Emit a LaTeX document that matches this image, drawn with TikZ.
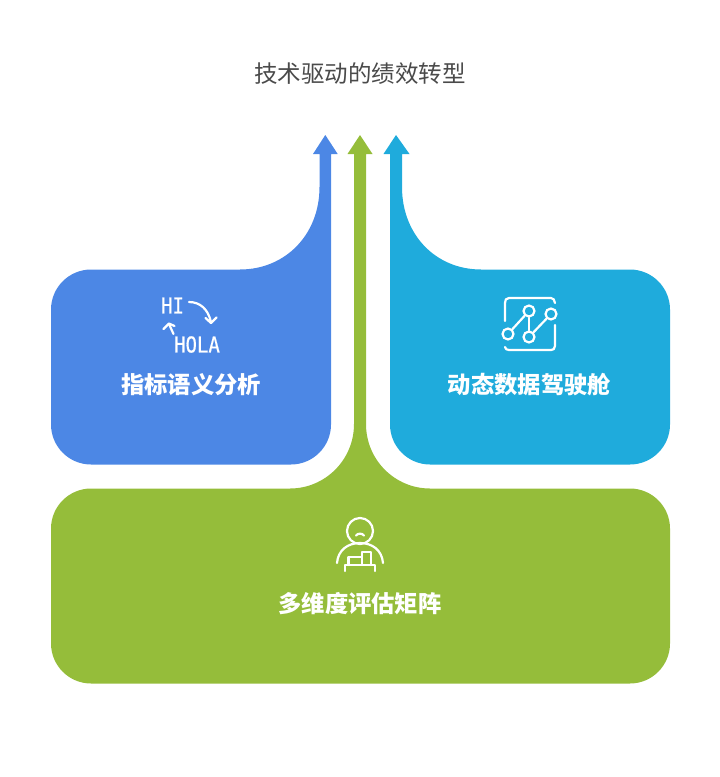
\documentclass[tikz,border=0pt]{standalone}
\usepackage{fontspec}
\setmainfont{Noto Sans CJK SC}
\newfontfamily\iconfont[FakeBold=0.6]{DejaVu Sans Mono}
\usetikzlibrary{arrows.meta}
\definecolor{blueflow}{HTML}{4C87E5}
\definecolor{greenflow}{HTML}{95BD3A}
\definecolor{cyanflow}{HTML}{1FABDC}
\definecolor{titlegray}{HTML}{4A4A4A}
\tikzset{
  boxlabel/.style={text=white,font=\fontsize{23.3}{26}\selectfont\bfseries,inner sep=0pt},
  iconline/.style={draw=white,line width=2.2pt,line cap=round,line join=round},
  icontext/.style={text=white,font=\iconfont\fontsize{19}{20}\selectfont,inner sep=0pt,yscale=1.15},
  dotnode/.style={circle,draw=white,line width=2.2pt,minimum size=11pt,inner sep=0pt}
}
\begin{document}
\begin{tikzpicture}[x=1pt,y=-1pt]
\useasboundingbox (0,0) rectangle (720,777);
% title
\node[text=titlegray,font=\fontsize{23.5}{26}\selectfont,inner sep=0pt] (title) at (360,74) {技术驱动的绩效转型};
% green box and middle arrow
\fill[greenflow] (91,488.5) -- (290,488.5) .. controls (325,488.5) and (354,460) .. (354,424)
  -- (354,154) -- (347.5,154) -- (360,135) -- (372.5,154) -- (366,154) -- (366,424)
  .. controls (366,460) and (395,488.5) .. (430,488.5) -- (630,488.5)
  .. controls (652,488.5) and (670,506.5) .. (670,528.5) -- (670,643.5)
  .. controls (670,665.5) and (652,683.5) .. (630,683.5) -- (91,683.5)
  .. controls (69,683.5) and (51,665.5) .. (51,643.5) -- (51,528.5)
  .. controls (51,506.5) and (69,488.5) .. (91,488.5) -- cycle;
% blue box and left arrow
\fill[blueflow] (91,269.5) -- (240,269.5) .. controls (285,269.5) and (319.5,235) .. (319.5,187)
  -- (319.5,154) -- (313,154) -- (325.3,135) -- (337.7,154) -- (331,154) -- (331,424.5)
  .. controls (331,446.5) and (313,464.5) .. (291,464.5) -- (91,464.5)
  .. controls (69,464.5) and (51,446.5) .. (51,424.5) -- (51,309.5)
  .. controls (51,287.5) and (69,269.5) .. (91,269.5) -- cycle;
% cyan box and right arrow
\fill[cyanflow] (630,269.5) -- (481,269.5) .. controls (436,269.5) and (402,235) .. (402,187)
  -- (402,154) -- (409.5,154) -- (396,135) -- (383.5,154) -- (390,154) -- (390,424.5)
  .. controls (390,446.5) and (408,464.5) .. (430,464.5) -- (630,464.5)
  .. controls (652,464.5) and (670,446.5) .. (670,424.5) -- (670,309.5)
  .. controls (670,287.5) and (652,269.5) .. (630,269.5) -- cycle;
% box labels
\node[boxlabel] (semantic) at (191,385) {指标语义分析};
\node[boxlabel] (cockpit) at (529.5,385) {动态数据驾驶舱};
\node[boxlabel] (matrix) at (360,604) {多维度评估矩阵};
% translate icon
\node[icontext] (hi) at (172.5,305.5) {HI};
\node[icontext] (hola) at (197,344.5) {HOLA};
\draw[iconline] (189,302) .. controls (200,302) and (208,309) .. (211,322);
\draw[iconline] (205.5,318) -- (211,323) -- (216.5,317.5);
\draw[iconline] (173.5,334) -- (169,324);
\draw[iconline] (163.5,329) -- (169,323.5) -- (174.5,326);
% chart icon
\draw[iconline] (505,321) -- (505,303) .. controls (505,300) and (506,298) .. (509,298) -- (551,298)
  .. controls (553,298) and (555,300) .. (555,303);
\draw[iconline] (555,325) -- (555,346) .. controls (555,349) and (553,350) .. (551,350) -- (509,350)
  .. controls (507,350) and (505,349) .. (505,347);
\node[dotnode] (d1) at (508,334) {};
\node[dotnode] (d2) at (529,311) {};
\node[dotnode] (d3) at (529,337) {};
\node[dotnode] (d4) at (551,314) {};
\draw[iconline] (d1) -- (d2);
\draw[iconline] (d2) -- (d3);
\draw[iconline] (d3) -- (d4);
% person icon
\draw[iconline] (360,531) circle (13);
\draw[iconline] (356,535.5) .. controls (358,533) and (362,533) .. (364,535.5);
\draw[iconline] (337,563) .. controls (338,550) and (348,543) .. (360,543) .. controls (372,543) and (382,550) .. (383,563);
\draw[iconline] (345,571) -- (345,565) -- (375,565) -- (375,571);
\draw[iconline] (348.5,565) -- (348.5,557) -- (362,557) -- (362,565);
\draw[iconline] (362,557) -- (362,552) -- (371,552) -- (371,565);
\end{tikzpicture}
\end{document}
